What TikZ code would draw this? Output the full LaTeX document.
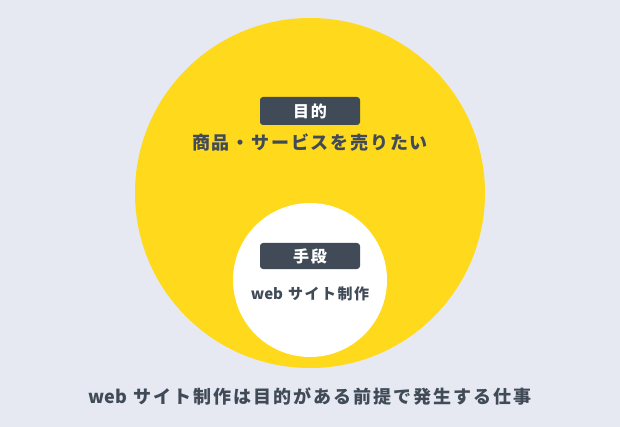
\documentclass[tikz,border=0pt]{standalone}
\usepackage{fontspec}
\newfontfamily\jp{Noto Sans CJK JP}[LetterSpace=10]
\newfontfamily\jpw{Noto Sans CJK JP}[LetterSpace=11]
\newfontfamily\jpn{Noto Sans CJK JP}
\definecolor{bg}{HTML}{E6E9F1}
\definecolor{yel}{HTML}{FFD91C}
\definecolor{ink}{HTML}{414B58}
\begin{document}
\begin{tikzpicture}[x=1pt,y=-1pt,
  tag/.style={fill=ink,text=white,rounded corners=3pt,minimum width=100pt,inner sep=0pt,font=\jp\bfseries\fontsize{16}{16}\selectfont},
  lbl/.style={text=ink,inner sep=0pt}]
\fill[bg] (0,0) rectangle (620,427);
\useasboundingbox (0,0) rectangle (620,427);
\node[circle,fill=yel,minimum size=350pt,inner sep=0pt] (big) at (310,193) {};
\node[circle,fill=white,minimum size=154pt,inner sep=0pt] (small) at (310,280) {};
\node[tag,minimum height=28pt] (goal) at (310,111) {目的};
\node[lbl,font=\jp\bfseries\fontsize{18}{18}\selectfont] (goaltext) at (310,143) {商品・サービスを売りたい};
\node[tag,minimum height=26pt] (means) at (310,256) {手段};
\node[lbl,font=\jp\bfseries\fontsize{15}{15}\selectfont] (meanstext) at (310,294) {{\jpn web} サイト制作};
\node[lbl,font=\jpw\bfseries\fontsize{18}{18}\selectfont] (foot) at (310,396) {{\jpn web} サイト制作は目的がある前提で発生する仕事};
\end{tikzpicture}
\end{document}
